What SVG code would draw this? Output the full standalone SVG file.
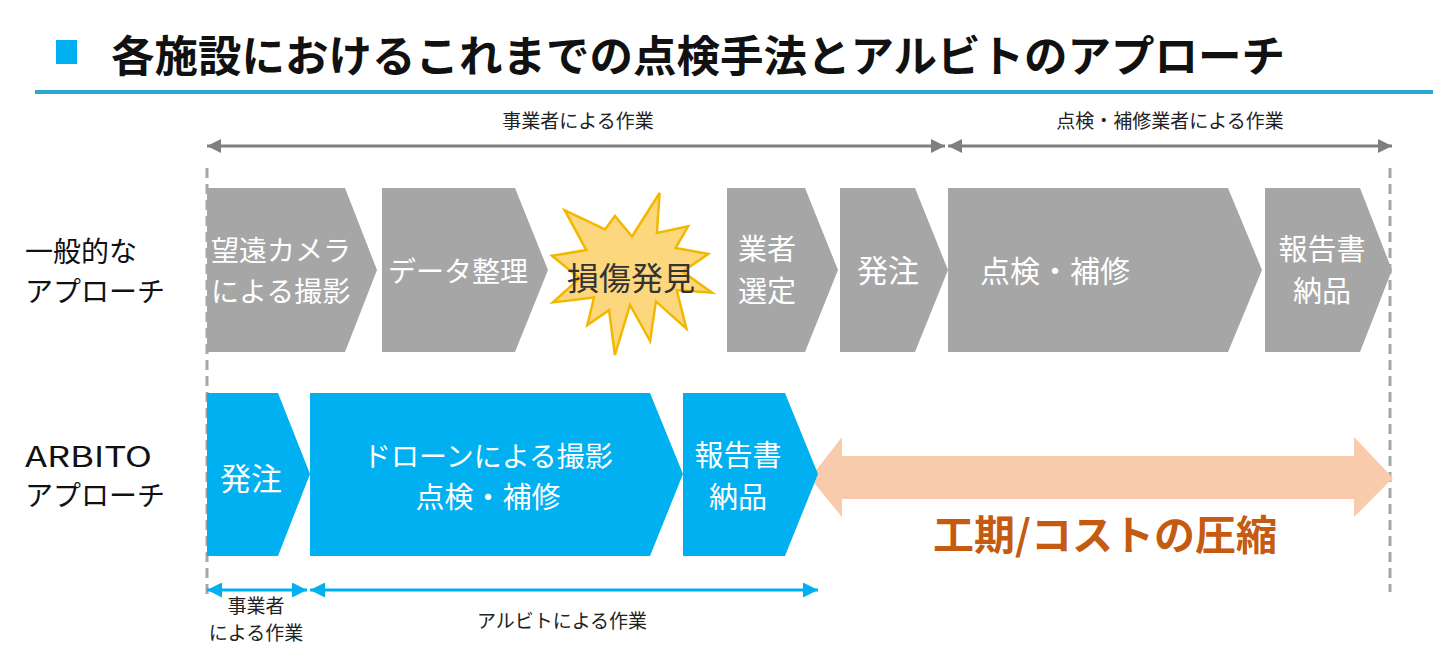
<svg xmlns="http://www.w3.org/2000/svg" width="1456" height="662" viewBox="0 0 1456 662">
<style>
.jp{font-family:"Noto Sans CJK JP","Noto Sans",sans-serif}
.box{font-family:"Noto Sans CJK JP",sans-serif;fill:#fff}
.lbl{font-family:"Noto Sans CJK JP",sans-serif;fill:#222;font-size:19px}
.row{font-family:"Noto Sans CJK JP","Noto Sans",sans-serif;fill:#111;font-size:28px}
.gray{fill:#a6a6a6}
.blue{fill:#00b0f0}
.dash{stroke:#a6a6a6;stroke-width:3;stroke-dasharray:10 6;fill:none}
.ga{stroke:#7f7f7f;stroke-width:3;fill:none;marker-start:url(#mg);marker-end:url(#mg)}
.ba{stroke:#00b0f0;stroke-width:3;fill:none;marker-start:url(#mb);marker-end:url(#mb)}
</style>
<defs>
<marker id="mg" viewBox="0 0 10 10" refX="10" refY="5" markerUnits="userSpaceOnUse" markerWidth="15" markerHeight="14" orient="auto-start-reverse"><path d="M0,0 L10,5 L0,10 z" fill="#7f7f7f"/></marker>
<marker id="mb" viewBox="0 0 10 10" refX="10" refY="5" markerUnits="userSpaceOnUse" markerWidth="15" markerHeight="15" orient="auto-start-reverse"><path d="M0,0 L10,5 L0,10 z" fill="#00b0f0"/></marker>
</defs>
<rect width="1456" height="662" fill="#fff"/>
<g id="title">
<rect x="56" y="40" width="21" height="24" fill="#00b0f0"/>
<text x="111" y="72" class="jp" font-size="43.5" font-weight="700" fill="#111">各施設におけるこれまでの点検手法とアルビトのアプローチ</text>
<rect x="35" y="90" width="1398" height="4" fill="#2aa8d0"/>
</g>
<g id="guides">
<line x1="207" y1="168" x2="207" y2="598" class="dash"/>
<line x1="1390" y1="168" x2="1390" y2="592" class="dash"/>
</g>
<g id="connectors">
<line x1="207" y1="146" x2="945" y2="146" class="ga"/>
<line x1="948" y1="146" x2="1392" y2="146" class="ga"/>
<line x1="207" y1="590" x2="307" y2="590" class="ba"/>
<line x1="310" y1="590" x2="818" y2="590" class="ba"/>
<path id="reduction-arrow" d="M810,478 L842,437 L842,456 L1354,456 L1354,437 L1393,478 L1354,517 L1354,499 L842,499 L842,517 z" fill="#f8cbad"/>
</g>
<g id="labels">
<text x="578" y="128" text-anchor="middle" class="lbl">事業者による作業</text>
<text x="1170" y="128" text-anchor="middle" class="lbl">点検・補修業者による作業</text>
<text x="256" y="613" text-anchor="middle" class="lbl">事業者</text>
<text x="256" y="640" text-anchor="middle" class="lbl">による作業</text>
<text x="562" y="628" text-anchor="middle" class="lbl">アルビトによる作業</text>
<text x="1105" y="550" text-anchor="middle" class="jp" font-size="41" font-weight="700" fill="#c55a11">工期/コストの圧縮</text>
</g>
<g id="row-labels">
<text x="25" y="262" class="row" font-size="30">一般的な</text>
<text x="25" y="302" class="row">アプローチ</text>
<text x="25" y="467" class="row" textLength="127" lengthAdjust="spacingAndGlyphs">ARBITO</text>
<text x="25" y="506" class="row">アプローチ</text>
</g>
<g id="g1">
<polygon class="gray" points="207,188 345,188 377,270 345,352 207,352"/>
<text x="211" y="261" class="box" font-size="28">望遠カメラ</text>
<text x="211" y="302" class="box" font-size="28">による撮影</text>
</g>
<g id="g2">
<polygon class="gray" points="382,188 515,188 548,270 515,352 382,352"/>
<text x="388" y="282" class="box" font-size="28">データ整理</text>
</g>
<g id="g3">
<polygon points="632,236.5 659.6,193 656.9,232.9 688.1,226.4 675.7,247.9 708.3,254 682.4,271.6 712,292.7 676.7,290.1 686.4,328.7 655.9,301.4 650.1,341 630,305 614.9,355 609.1,310.2 587.3,325.1 594,297.5 553,302.4 579.6,278.2 552,255.8 586.3,250.1 564.7,210.2 605,229.4 614.9,216" fill="#fdd77d" stroke="#f2b800" stroke-width="2.5" stroke-linejoin="miter"/>
<text x="567" y="290" class="jp" font-size="32" fill="#333">損傷発見</text>
</g>
<g id="g4">
<polygon class="gray" points="727,188 805,188 838,270 805,352 727,352"/>
<text x="767" y="260" text-anchor="middle" class="box" font-size="29">業者</text>
<text x="767" y="302" text-anchor="middle" class="box" font-size="29">選定</text>
</g>
<g id="g5">
<polygon class="gray" points="840,188 915,188 948,270 915,352 840,352"/>
<text x="857" y="282" class="box" font-size="31">発注</text>
</g>
<g id="g6">
<polygon class="gray" points="948,188 1228,188 1262,270 1228,352 948,352"/>
<text x="980" y="282" class="box" font-size="30">点検・補修</text>
</g>
<g id="g7">
<polygon class="gray" points="1265,188 1360,188 1392,270 1360,352 1265,352"/>
<text x="1322" y="260" text-anchor="middle" class="box" font-size="29">報告書</text>
<text x="1322" y="302" text-anchor="middle" class="box" font-size="29">納品</text>
</g>
<g id="b1">
<polygon class="blue" points="207,393 278,393 310,474 278,556 207,556"/>
<text x="220" y="490" class="box" font-size="31">発注</text>
</g>
<g id="b2">
<polygon class="blue" points="310,393 650,393 683,474 650,556 310,556"/>
<text x="488" y="467" text-anchor="middle" class="box" font-size="28">ドローンによる撮影</text>
<text x="488" y="508" text-anchor="middle" class="box" font-size="29">点検・補修</text>
</g>
<g id="b3">
<polygon class="blue" points="683,393 785,393 818,474 785,556 683,556"/>
<text x="738" y="466" text-anchor="middle" class="box" font-size="29">報告書</text>
<text x="738" y="508" text-anchor="middle" class="box" font-size="29">納品</text>
</g>
</svg>
